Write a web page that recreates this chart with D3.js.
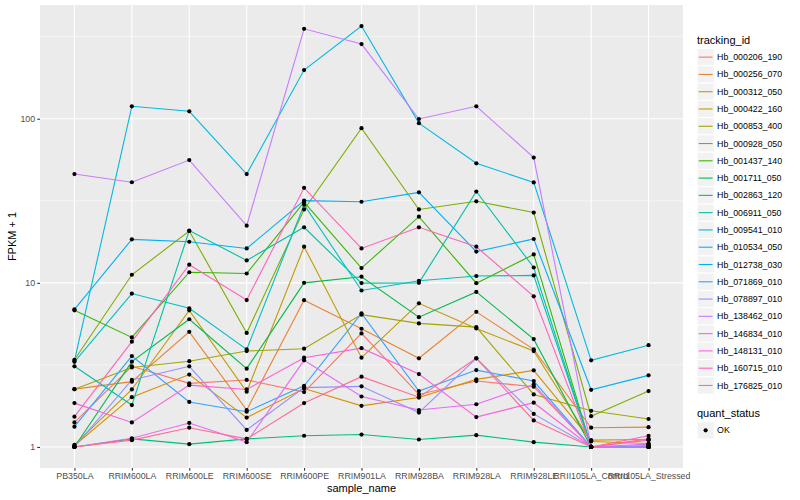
<!DOCTYPE html>
<html>
<head>
<meta charset="utf-8">
<script src="https://cdn.jsdelivr.net/npm/d3@7"></script>
<style>
  body { margin: 0; background: #fff; }
  text { font-family: "Liberation Sans", Arial, Helvetica, sans-serif; }
</style>
</head>
<body>
<svg id="chart"></svg>
<script>
// samples on the x axis
var samples = ["PB350LA", "RRIM600LA", "RRIM600LE", "RRIM600SE", "RRIM600PE", "RRIM901LA",
               "RRIM928BA", "RRIM928LA", "RRIM928LE", "RRII105LA_Control", "RRII105LA_Stressed"];

// FPKM + 1, one array per tracking_id (same order as samples)
var hb_000206_190 = [1.41, 3.1, 2.44, 2.56, 2.16, 4.92, 2.09, 2.52, 2.33, 1.0, 1.02];
var hb_000256_070 = [2.25, 2.5, 5.03, 1.68, 7.84, 5.25, 3.47, 6.66, 3.93, 1.31, 1.32];
var hb_000312_050 = [1.02, 2.01, 2.76, 1.51, 2.27, 1.78, 2.0, 2.58, 2.93, 1.1, 1.11];
var hb_000422_160 = [1.03, 2.24, 6.8, 2.17, 16.6, 3.5, 7.5, 5.27, 3.84, 1.08, 1.05];
var hb_000853_400 = [2.25, 3.05, 3.33, 3.84, 3.97, 6.4, 5.66, 5.37, 2.09, 1.66, 1.48];
var hb_000928_050 = [3.4, 11.2, 20.7, 4.95, 28, 87.6, 28, 31.4, 26.8, 1.54, 2.19];
var hb_001437_140 = [6.8, 4.65, 11.6, 11.4, 31, 12.3, 25.3, 9.95, 14.9, 1.0, 1.0];
var hb_001711_050 = [1.0, 3.31, 6.0, 3.0, 10, 10.9, 6.18, 8.8, 4.54, 1.0, 1.0];
var hb_002863_120 = [1.0, 1.12, 1.04, 1.12, 1.17, 1.19, 1.11, 1.18, 1.07, 1.0, 1.0];
var hb_006911_050 = [3.1, 1.8, 20.8, 13.7, 21.8, 9.96, 10.0, 36, 12.4, 1.0, 1.0];
var hb_009541_010 = [3.3, 8.6, 7.0, 3.93, 29.9, 8.98, 10.3, 11.0, 11.1, 1.0, 1.0];
var hb_010534_050 = [3.35, 119, 111, 46, 198, 367, 94, 53.5, 40.9, 3.37, 4.17];
var hb_012738_030 = [6.9, 18.4, 17.8, 16.2, 31.7, 31.2, 35.6, 15.5, 18.5, 2.23, 2.73];
var hb_071869_010 = [1.33, 3.58, 1.88, 1.64, 2.36, 6.52, 2.19, 2.94, 2.52, 1.0, 1.0];
var hb_078897_010 = [1.0, 2.56, 3.1, 1.27, 2.3, 2.34, 1.62, 3.47, 1.59, 1.0, 1.0];
var hb_138462_010 = [46, 41, 56, 22.3, 353, 285, 99.6, 119, 58, 1.0, 1.0];
var hb_146834_010 = [1.0, 1.13, 1.40, 1.07, 3.37, 2.03, 1.68, 1.82, 2.4, 1.0, 1.04];
var hb_148131_010 = [1.85, 1.41, 2.38, 2.24, 3.5, 4.0, 2.78, 1.52, 1.86, 1.0, 1.1];
var hb_160715_010 = [1.53, 4.38, 12.9, 7.85, 37.9, 16.2, 21.8, 16.6, 8.28, 1.0, 1.17];
var hb_176825_010 = [1.0, 1.10, 1.31, 1.12, 1.85, 2.68, 2.01, 3.47, 1.45, 1.0, 1.12];

var trackingIds = ["Hb_000206_190", "Hb_000256_070", "Hb_000312_050", "Hb_000422_160", "Hb_000853_400",
                   "Hb_000928_050", "Hb_001437_140", "Hb_001711_050", "Hb_002863_120", "Hb_006911_050",
                   "Hb_009541_010", "Hb_010534_050", "Hb_012738_030", "Hb_071869_010", "Hb_078897_010",
                   "Hb_138462_010", "Hb_146834_010", "Hb_148131_010", "Hb_160715_010", "Hb_176825_010"];
var seriesValues = [hb_000206_190, hb_000256_070, hb_000312_050, hb_000422_160, hb_000853_400,
                    hb_000928_050, hb_001437_140, hb_001711_050, hb_002863_120, hb_006911_050,
                    hb_009541_010, hb_010534_050, hb_012738_030, hb_071869_010, hb_078897_010,
                    hb_138462_010, hb_146834_010, hb_148131_010, hb_160715_010, hb_176825_010];
var quantStatus = ["OK"];
var yTicks = [1, 10, 100];

// ggplot hue palette, 20 levels
var palette = ["#F8766D", "#EA8331", "#D89000", "#C09B00", "#A3A500", "#7CAE00", "#39B600", "#00BB4E",
               "#00BF7D", "#00C1A3", "#00BFC4", "#00BAE0", "#00B0F6", "#35A2FF", "#9590FF", "#C77CFF",
               "#E76BF3", "#FA62DB", "#FF62BC", "#FF6C91"];

// build long table
var series = trackingIds.map(function(id, i) {
  return { id: id, values: samples.map(function(s, j) { return { sample: s, value: seriesValues[i][j] }; }) };
});
var allPoints = [];
series.forEach(function(s) { s.values.forEach(function(d) { allPoints.push(d); }); });

var svgWidth = 800, svgHeight = 500;
var panel = { left: 40, right: 683, top: 5, bottom: 468 };

var svg = d3.select("#chart").attr("width", svgWidth).attr("height", svgHeight);

var x = d3.scalePoint()
    .domain(samples)
    .range([panel.left, panel.right])
    .padding(0.6);

// log scale, expanded 5% like ggplot
var ext = d3.extent(allPoints, function(d) { return Math.log10(d.value); });
var pad = (ext[1] - ext[0]) * 0.05;
var y = d3.scaleLog()
    .domain([Math.pow(10, ext[0] - pad), Math.pow(10, ext[1] + pad)])
    .range([panel.bottom, panel.top]);

var color = d3.scaleOrdinal().domain(trackingIds).range(palette);

// panel background
svg.append("rect")
    .attr("x", panel.left).attr("y", panel.top)
    .attr("width", panel.right - panel.left).attr("height", panel.bottom - panel.top)
    .attr("fill", "#EBEBEB");

var grid = svg.append("g");
var minorTicks = [Math.pow(10, -0.5), Math.pow(10, 0.5), Math.pow(10, 1.5), Math.pow(10, 2.5)]
    .filter(function(v) { return v >= y.domain()[0] && v <= y.domain()[1]; });

grid.selectAll(".minor").data(minorTicks).enter().append("line")
    .attr("x1", panel.left).attr("x2", panel.right)
    .attr("y1", function(d) { return y(d); }).attr("y2", function(d) { return y(d); })
    .attr("stroke", "#fff").attr("stroke-width", 0.55);

grid.selectAll(".majory").data(yTicks).enter().append("line")
    .attr("x1", panel.left).attr("x2", panel.right)
    .attr("y1", function(d) { return y(d); }).attr("y2", function(d) { return y(d); })
    .attr("stroke", "#fff").attr("stroke-width", 1.1);

grid.selectAll(".majorx").data(samples).enter().append("line")
    .attr("y1", panel.top).attr("y2", panel.bottom)
    .attr("x1", function(d) { return x(d); }).attr("x2", function(d) { return x(d); })
    .attr("stroke", "#fff").attr("stroke-width", 1.1);

// lines
var line = d3.line()
    .x(function(d) { return x(d.sample); })
    .y(function(d) { return y(d.value); });

svg.append("g").selectAll("path").data(series).enter().append("path")
    .attr("d", function(d) { return line(d.values); })
    .attr("fill", "none")
    .attr("stroke", function(d) { return color(d.id); })
    .attr("stroke-width", 1.1);

// points on top
svg.append("g").selectAll("circle").data(allPoints).enter().append("circle")
    .attr("cx", function(d) { return x(d.sample); })
    .attr("cy", function(d) { return y(d.value); })
    .attr("r", 2.1)
    .attr("fill", "#000");

// axes
var yAxis = svg.append("g")
    .attr("transform", "translate(" + panel.left + ",0)")
    .call(d3.axisLeft(y).tickValues(yTicks).tickFormat(d3.format("d")).tickSize(2.75).tickPadding(2.2));
var xAxis = svg.append("g")
    .attr("transform", "translate(0," + panel.bottom + ")")
    .call(d3.axisBottom(x).tickSize(2.75).tickPadding(2.2));

[xAxis, yAxis].forEach(function(a) {
  a.select(".domain").remove();
  a.selectAll(".tick line").attr("stroke", "#333333").attr("stroke-width", 1.07);
  a.selectAll(".tick text").attr("fill", "#4D4D4D").style("font-size", "8.8px")
      .style("font-family", "'Liberation Sans', Arial, sans-serif");
});

// axis titles
svg.append("text")
    .attr("x", (panel.left + panel.right) / 2).attr("y", 492)
    .attr("text-anchor", "middle").style("font-size", "11px").attr("fill", "#000")
    .text("sample_name");
svg.append("text")
    .attr("transform", "translate(16," + ((panel.top + panel.bottom) / 2) + ") rotate(-90)")
    .attr("text-anchor", "middle").style("font-size", "11px").attr("fill", "#000")
    .text("FPKM + 1");

// legend: tracking_id
var legX = 697, keySize = 17.28;
var leg = svg.append("g");
leg.append("text").attr("x", legX).attr("y", 43.5).style("font-size", "11px").text("tracking_id");

var keys = leg.selectAll(".key").data(trackingIds).enter().append("g")
    .attr("transform", function(d, i) { return "translate(" + legX + "," + (48.5 + i * keySize) + ")"; });
keys.append("rect").attr("width", keySize).attr("height", keySize)
    .attr("fill", "#F2F2F2").attr("stroke", "#fff").attr("stroke-width", 1);
keys.append("line")
    .attr("x1", 1.7).attr("x2", keySize - 1.7)
    .attr("y1", keySize / 2).attr("y2", keySize / 2)
    .attr("stroke", function(d) { return color(d); }).attr("stroke-width", 1.1);
keys.append("text")
    .attr("x", keySize + 2.8).attr("y", keySize / 2).attr("dy", "0.35em")
    .style("font-size", "8.8px").attr("fill", "#000")
    .text(function(d) { return d; });

// legend: quant_status
leg.append("text").attr("x", legX).attr("y", 416.5).style("font-size", "11px").text("quant_status");
var qkeys = leg.selectAll(".qkey").data(quantStatus).enter().append("g")
    .attr("transform", function(d, i) { return "translate(" + legX + "," + (421.7 + i * keySize) + ")"; });
qkeys.append("rect").attr("width", keySize).attr("height", keySize)
    .attr("fill", "#F2F2F2").attr("stroke", "#fff").attr("stroke-width", 1);
qkeys.append("circle").attr("cx", keySize / 2).attr("cy", keySize / 2).attr("r", 2.1).attr("fill", "#000");
qkeys.append("text")
    .attr("x", keySize + 2.8).attr("y", keySize / 2).attr("dy", "0.35em")
    .style("font-size", "8.8px").attr("fill", "#000")
    .text(function(d) { return d; });
</script>
</body>
</html>
